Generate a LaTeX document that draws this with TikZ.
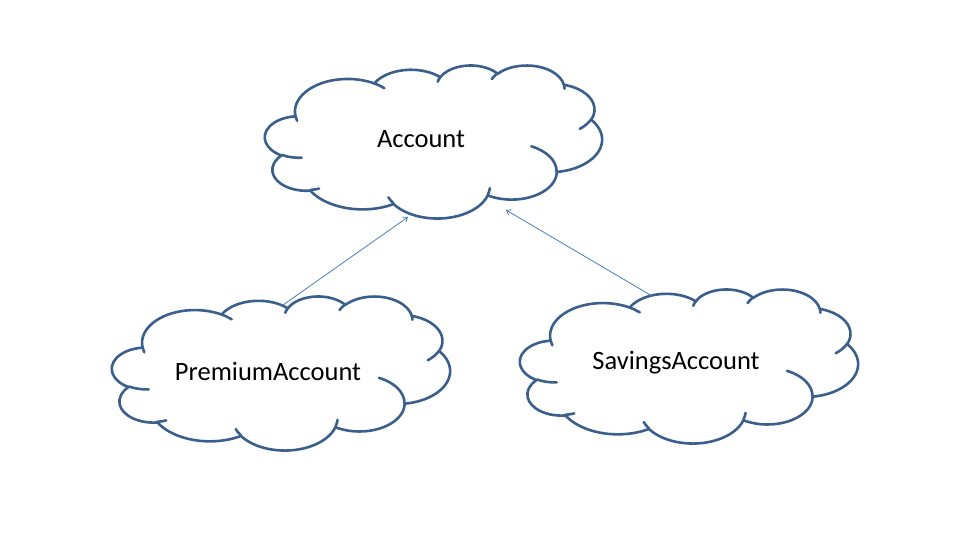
\documentclass[tikz,border=0pt]{standalone}
\usepackage{fontspec}
\setmainfont{Carlito}
\usetikzlibrary{arrows.meta}
\definecolor{cloudblue}{HTML}{3B5F8C}
\definecolor{linkblue}{HTML}{4A7EBB}
\tikzset{
  cloudline/.style={draw=cloudblue, line width=2.6pt, line join=round, line cap=round},
  label/.style={font=\fontsize{26.5}{30}\selectfont, inner sep=0pt, text=black},
  link/.style={draw=linkblue, line width=0.8pt, -{Straight Barb[length=4pt,width=6pt]}}
}
% arc with DrawingML "visual" angles: wR hR stAng swAng
\newcommand\oarc[4]{arc[start angle={atan2((#1)*sin(#3),(#2)*cos(#3))},
  delta angle={mod(atan2((#1)*sin(#3+#4),(#2)*cos(#3+#4))-atan2((#1)*sin(#3),(#2)*cos(#3))+720,360)},
  x radius=#1, y radius=#2]}
\newcommand\officecloud[4]{%
 \begin{scope}[shift={(#1,#2)}, x={(#3pt/43.2,0pt)}, y={(0pt,-#4pt/43.2)}]
  \draw[cloudline, fill=white] (3.900,14.370)
    \oarc{6.753}{9.190}{-190.4875}{123.7805}
    \oarc{5.333}{7.267}{-144.1024}{89.9452}
    \oarc{4.365}{5.945}{-145.8079}{99.7230}
    \oarc{4.857}{6.595}{-130.9861}{117.2417}
    \oarc{5.333}{7.273}{-78.7089}{109.0269}
    \oarc{6.775}{9.220}{-46.2673}{130.2690}
    \oarc{5.785}{7.867}{0.6250}{114.0333}
    \oarc{6.752}{9.215}{22.4516}{115.1726}
    \oarc{7.720}{10.543}{66.2426}{75.7110}
    \oarc{4.360}{5.918}{-274.9421}{146.7356}
    \oarc{4.345}{5.945}{-246.8285}{152.5189}
    -- cycle;
  \draw[cloudline]
    (4.693,26.177) \oarc{4.345}{5.945}{86.7420}{26.4295}
    (6.928,34.899) \oarc{4.360}{5.918}{73.6105}{11.4475}
    (16.478,39.090) \oarc{6.752}{9.215}{137.6242}{14.0811}
    (28.827,34.751) \oarc{6.752}{9.215}{6.4533}{15.9984}
    (34.129,22.954) \oarc{5.785}{7.867}{-70.2924}{70.9174}
    (41.798,15.354) \oarc{5.333}{7.273}{30.3180}{27.7515}
    (38.324,5.426) \oarc{4.857}{6.595}{-13.7443}{14.8589}
    (29.078,3.952) \oarc{4.857}{6.595}{-149.1815}{18.1954}
    (22.141,4.720) \oarc{4.365}{5.945}{-163.4943}{17.6864}
    (14.000,5.192) \oarc{6.753}{9.190}{-66.7070}{12.3194}
    (4.127,15.789) \oarc{6.753}{9.190}{157.6544}{11.8582};
 \end{scope}}
\begin{document}
\begin{tikzpicture}[x=1pt, y=-1pt]
\useasboundingbox[fill=white] (0,0) rectangle (960,540);
\officecloud{265}{65}{337}{153}
\officecloud{112}{296}{338}{154}
\officecloud{520}{289}{338}{154}
\node[label] (acc) at (421,139) {Account};
\node[label] (prem) at (268,371) {PremiumAccount};
\node[label] (sav) at (676,363) {SavingsAccount};
\coordinate (premtop) at (283,305);
\coordinate (savtop) at (652,296);
\coordinate (accbl) at (408,217);
\coordinate (accbr) at (506,210);
\draw[link] (premtop) -- (accbl);
\draw[link] (savtop) -- (accbr);
\end{tikzpicture}
\end{document}
